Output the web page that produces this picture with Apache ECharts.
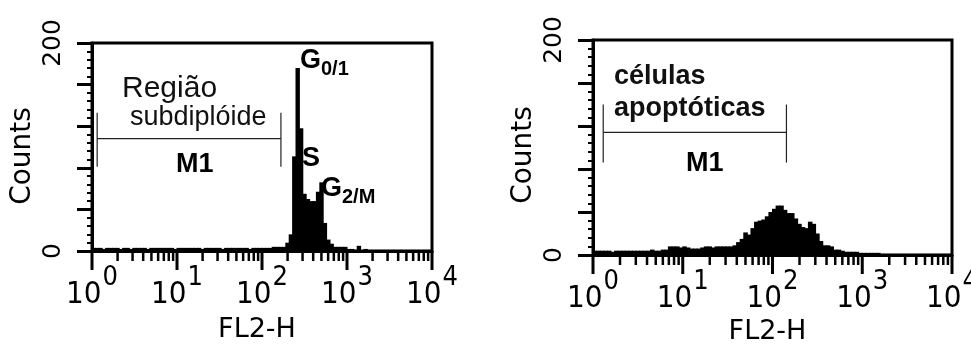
<!DOCTYPE html>
<html>
<head>
<meta charset="utf-8">
<script src="https://cdn.jsdelivr.net/npm/echarts@6/dist/echarts.min.js"></script>
<style>
  html, body { margin: 0; padding: 0; background: #fff; }
  #main { width: 971px; height: 346px; }
</style>
</head>
<body>
<div id="main"></div>
<script>
// histogram bins: width in decades of FL2-H (log scale), counts per bin
var binW = 0.04;
var leftCounts = [
    3, 3, 3, 2, 3, 3, 3, 3, 2, 3,
    3, 2, 3, 3, 3, 3, 2, 3, 3, 3,
    3, 3, 3, 3, 2, 3, 3, 3, 3, 3,
    3, 3, 2, 3, 3, 3, 3, 3, 2, 3,
    3, 3, 3, 3, 3, 3, 2, 3, 3, 3,
    3, 3, 3, 4, 4, 4, 4, 8, 16, 91,
    176, 118, 55, 50, 48, 48, 57, 66, 27, 11,
    7, 4, 4, 4, 4, 2, 2, 1, 5, 1,
    2, 1, 1, 1, 1, 1, 1, 1, 1, 1,
    1, 1, 1, 1, 1, 1, 1, 1, 1, 1
];
var rightCounts = [
    4, 4, 4, 4, 4, 3, 4, 4, 4, 4,
    4, 4, 4, 4, 4, 4, 5, 4, 4, 5,
    5, 8, 8, 8, 7, 8, 7, 6, 6, 6,
    7, 8, 8, 7, 8, 8, 8, 8, 8, 9,
    12, 15, 21, 19, 25, 31, 32, 33, 36, 40,
    43, 46, 46, 42, 39, 39, 34, 29, 26, 25,
    31, 29, 20, 13, 9, 9, 8, 5, 5, 4,
    3, 3, 3, 3, 2, 2, 2, 2, 2, 2,
    1, 1, 1, 1, 1, 1, 1, 1, 1, 1,
    1, 1, 1, 1, 1, 1, 1, 1, 1, 1
];
// M1 marker: [from, to, top of end bars, line level, bottom of end bars]
var leftMarker = [1.15, 167, 133, 108, 81];
var rightMarker = [1.3, 143, 140, 114, 86];
var decades = [1, 10, 100, 1000, 10000];
var yTicks = [0, 40, 80, 120, 160, 200];

var tickFont = "'Liberation Sans Narrow', 'DejaVu Sans Condensed', 'Liberation Sans', sans-serif";
var axisFont = "'DejaVu Sans', sans-serif";
var annFont = "'Liberation Sans', Arial, sans-serif";

// log ticks 1..9 per decade
var logTicks = [];
for (var d = 0; d < decades.length - 1; d++) {
    for (var m = 1; m <= 9; m++) {
        logTicks.push([decades[d] * m, m === 1 ? 1 : 0]);
    }
}
logTicks.push([decades[decades.length - 1], 1]);

function histData(counts) {
    var res = [];
    for (var i = 0; i < counts.length; i++) {
        res.push([Math.pow(10, i * binW), counts[i], Math.pow(10, (i + 1) * binW)]);
    }
    return res;
}

function renderBar(params, api) {
    var p0 = api.coord([api.value(0), api.value(1)]);
    var p1 = api.coord([api.value(2), 0]);
    return {
        type: 'rect',
        shape: { x: p0[0] - 0.5, y: p0[1], width: p1[0] - p0[0] + 1, height: p1[1] - p0[1] },
        style: { fill: '#000', stroke: null }
    };
}

function renderTick(params, api) {
    var p = api.coord([api.value(0), 0]);
    var len = api.value(1) ? 19 : 10;
    return {
        type: 'line',
        shape: { x1: p[0], y1: p[1], x2: p[0], y2: p[1] + len },
        style: { stroke: '#000', lineWidth: api.value(1) ? 3 : 2.5 }
    };
}

function renderMarker(params, api) {
    var a = api.coord([api.value(0), api.value(3)]);
    var b = api.coord([api.value(1), api.value(3)]);
    var top = api.coord([api.value(0), api.value(2)])[1];
    var bot = api.coord([api.value(0), api.value(4)])[1];
    var st = { stroke: '#222', lineWidth: 1.2 };
    return {
        type: 'group',
        children: [
            { type: 'line', shape: { x1: a[0], y1: a[1], x2: b[0], y2: b[1] }, style: st },
            { type: 'line', shape: { x1: a[0], y1: top, x2: a[0], y2: bot }, style: st },
            { type: 'line', shape: { x1: b[0], y1: top, x2: b[0], y2: bot }, style: st }
        ]
    };
}

function xAxisFor(idx) {
    return {
        gridIndex: idx,
        type: 'log',
        logBase: 10,
        min: 1,
        max: 10000,
        name: 'FL2-H',
        nameLocation: 'middle',
        nameGap: idx === 0 ? 65 : 61,
        nameTextStyle: { fontFamily: axisFont, fontSize: 27, color: '#000', padding: [0, 10, 0, 0] },
        axisLine: { show: true, lineStyle: { color: '#000', width: 3 } },
        axisTick: { show: false },
        splitLine: { show: false },
        axisLabel: {
            margin: 13,
            formatter: function (v) {
                return '{b|10}{s|' + Math.round(Math.log10(v)) + '}';
            },
            rich: {
                b: { fontFamily: tickFont, fontSize: 31, color: '#000', verticalAlign: 'bottom' },
                s: { fontFamily: tickFont, fontSize: 27, color: '#000', verticalAlign: 'bottom', padding: [0, 0, 19, 1] }
            }
        }
    };
}

function yAxisFor(idx) {
    return {
        gridIndex: idx,
        type: 'value',
        min: yTicks[0],
        max: yTicks[yTicks.length - 1],
        interval: yTicks[1] - yTicks[0],
        name: 'Counts',
        nameLocation: 'middle',
        nameGap: 55,
        nameTextStyle: { fontFamily: axisFont, fontSize: 28, color: '#000', padding: [0, idx === 0 ? 18 : 15, 0, 0] },
        axisLine: { show: true, lineStyle: { color: '#000', width: 3 } },
        axisTick: { show: true, length: 15, lineStyle: { color: '#000', width: 3 } },
        minorTick: { show: true, splitNumber: 5, length: 5, lineStyle: { color: '#000', width: 2 } },
        splitLine: { show: false },
        axisLabel: {
            rotate: 90,
            margin: 26,
            fontFamily: axisFont,
            fontSize: 25,
            color: '#000',
            formatter: function (v) {
                return (v === yTicks[0] || v === yTicks[yTicks.length - 1]) ? String(v) : '';
            }
        }
    };
}

var myChart = echarts.init(document.getElementById('main'), null, { renderer: 'canvas' });

var option = {
    backgroundColor: '#fff',
    animation: false,
    grid: [
        { left: 92, top: 43, width: 340, height: 208, show: true, borderColor: '#000', borderWidth: 3, backgroundColor: 'transparent', outerBoundsMode: 'none' },
        { left: 593, top: 40, width: 359, height: 215, show: true, borderColor: '#000', borderWidth: 3, backgroundColor: 'transparent', outerBoundsMode: 'none' }
    ],
    xAxis: [xAxisFor(0), xAxisFor(1)],
    yAxis: [yAxisFor(0), yAxisFor(1)],
    series: [
        { type: 'custom', xAxisIndex: 0, yAxisIndex: 0, renderItem: renderBar, data: histData(leftCounts), clip: true },
        { type: 'custom', xAxisIndex: 1, yAxisIndex: 1, renderItem: renderBar, data: histData(rightCounts), clip: true },
        { type: 'custom', xAxisIndex: 0, yAxisIndex: 0, renderItem: renderTick, data: logTicks },
        { type: 'custom', xAxisIndex: 1, yAxisIndex: 1, renderItem: renderTick, data: logTicks },
        { type: 'custom', xAxisIndex: 0, yAxisIndex: 0, renderItem: renderMarker, data: [leftMarker] },
        { type: 'custom', xAxisIndex: 1, yAxisIndex: 1, renderItem: renderMarker, data: [rightMarker] }
    ],
    graphic: [
        { type: 'text', left: 122, top: 74, style: { text: 'Região', fontFamily: annFont, fontSize: 30, fill: '#111' } },
        { type: 'text', left: 130, top: 104, style: { text: 'subdiplóide', fontFamily: annFont, fontSize: 27, fill: '#111' } },
        { type: 'text', left: 176, top: 151, style: { text: 'M1', fontFamily: annFont, fontWeight: 'bold', fontSize: 27, fill: '#000' } },
        { type: 'text', left: 300, top: 47, style: {
            text: '{g|G}{s|0/1}',
            rich: {
                g: { fontFamily: annFont, fontWeight: 'bold', fontSize: 27, fill: '#000', verticalAlign: 'bottom', padding: [0, 0, 5, 0] },
                s: { fontFamily: annFont, fontWeight: 'bold', fontSize: 20, fill: '#000', verticalAlign: 'bottom' }
            }
        } },
        { type: 'text', left: 302, top: 145, style: { text: 'S', fontFamily: annFont, fontWeight: 'bold', fontSize: 27, fill: '#000' } },
        { type: 'text', left: 321, top: 175, style: {
            text: '{g|G}{s|2/M}',
            rich: {
                g: { fontFamily: annFont, fontWeight: 'bold', fontSize: 27, fill: '#000', verticalAlign: 'bottom', padding: [0, 0, 5, 0] },
                s: { fontFamily: annFont, fontWeight: 'bold', fontSize: 20, fill: '#000', verticalAlign: 'bottom' }
            }
        } },
        { type: 'text', left: 614, top: 63, style: { text: 'células', fontFamily: annFont, fontWeight: 'bold', fontSize: 27, fill: '#111' } },
        { type: 'text', left: 614, top: 95, style: { text: 'apoptóticas', fontFamily: annFont, fontWeight: 'bold', fontSize: 27, fill: '#111' } },
        { type: 'text', left: 686, top: 150, style: { text: 'M1', fontFamily: annFont, fontWeight: 'bold', fontSize: 27, fill: '#000' } }
    ]
};
myChart.setOption(option);
</script>
</body>
</html>
